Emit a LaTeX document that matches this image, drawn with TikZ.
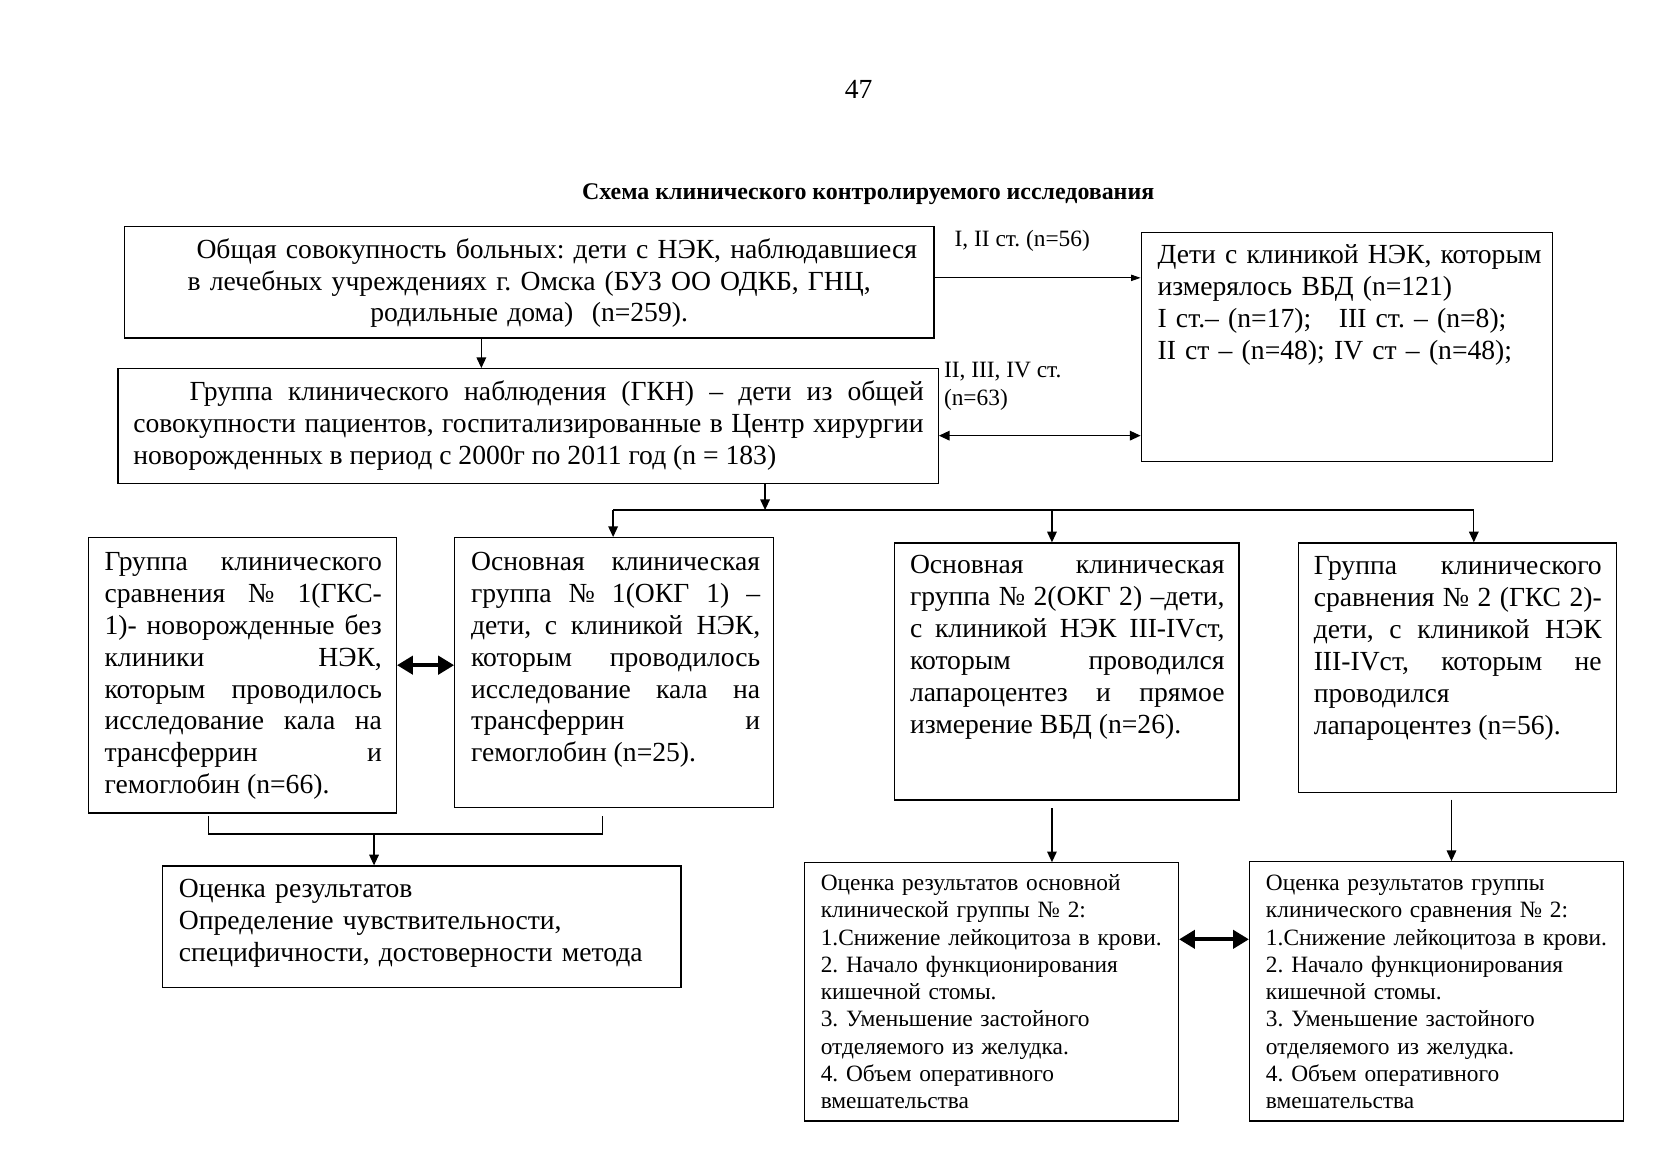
\documentclass[tikz,border=0pt]{standalone}
\usepackage{fontspec}
\setmainfont{Liberation Serif}
\usetikzlibrary{arrows.meta,positioning,calc,fit}

% one justified line of a box text
\newcommand{\jl}[1]{\makebox[\linewidth][s]{#1}\\}
\frenchspacing

\begin{document}
\begin{tikzpicture}[
    x=0.5pt, y=-0.5pt,
    box/.style={rectangle, draw=black, line width=0.6pt, inner sep=0pt},
    txt/.style={inner sep=0pt, anchor=base west, align=justify, font=\fontsize{13}{15}\selectfont},
    small/.style={inner sep=0pt, anchor=base west, align=left, font=\fontsize{11}{12.85}\selectfont},
    note/.style={inner sep=0pt, anchor=base west, align=left, font=\fontsize{11}{13.5}\selectfont},
    arrow/.style={-{Triangle[length=5pt,width=4.5pt]}, line width=0.6pt},
    darrow/.style={{Triangle[length=7.5pt,width=8.5pt]}-{Triangle[length=7.5pt,width=8.5pt]}, line width=2pt}
]
\useasboundingbox (0,0) rectangle (1566,1106);

% Page number and title
\node[txt, anchor=base] (page) at (808,93) {47};
\node[txt, anchor=base, font=\fontsize{11.25}{13}\selectfont\bfseries] (title) at (817,188) {Схема клинического контролируемого исследования};

% Boxes
\node[box, fit={(117,213) (879,318)}] (total) {};
\node[box, fit={(1074,219) (1461,434)}] (measured) {};
\node[box, fit={(111,347) (883,455)}] (gkn) {};
\node[box, fit={(83,506) (373,765)}] (gks1) {};
\node[box, fit={(428,506) (728,760)}] (okg1) {};
\node[box, fit={(842,511) (1166,753)}] (okg2) {};
\node[box, fit={(1222,511) (1521,746)}] (gks2) {};
\node[box, fit={(153,815) (641,929)}] (res1) {};
\node[box, fit={(757,812) (1109,1055)}] (res2) {};
\node[box, fit={(1176,811) (1528,1055)}] (res3) {};

% Box texts
\node[txt, anchor=base, align=center, text width=381pt] (totaltext) at (498,243) {\hspace*{26pt}Общая совокупность больных: дети с НЭК, наблюдавшиеся\\
в лечебных учреждениях г. Омска (БУЗ ОО ОДКБ, ГНЦ,\\
родильные дома)\ \ (n=259).};

\node[txt, align=left, text width=190pt] (measuredtext) at (1089,248) {Дети с клиникой НЭК, которым\\
измерялось ВБД (n=121)\\
I ст.– (n=17);\hspace{13pt}III ст. – (n=8);\\
II ст – (n=48); IV ст – (n=48);};

\node[txt, text width=372pt] (gkntext) at (125,377) {\jl{\hspace*{26.5pt}Группа клинического наблюдения (ГКН) – дети из общей}
\jl{совокупности пациентов, госпитализированные в Центр хирургии}
новорожденных в период с 2000г по 2011 год (n = 183)};

\node[txt, text width=130.5pt] (gks1text) at (98,537) {\jl{Группа клинического}
\jl{сравнения № 1(ГКС-}
\jl{1)- новорожденные без}
\jl{клиники НЭК,}
\jl{которым проводилось}
\jl{исследование кала на}
\jl{трансферрин и}
гемоглобин (n=66).};

\node[txt, text width=136pt] (okg1text) at (443,537) {\jl{Основная клиническая}
\jl{группа № 1(ОКГ 1) –}
\jl{дети, с клиникой НЭК,}
\jl{которым проводилось}
\jl{исследование кала на}
\jl{трансферрин и}
гемоглобин (n=25).};

\node[txt, text width=148pt] (okg2text) at (856,540) {\jl{Основная клиническая}
\jl{группа № 2(ОКГ 2) –дети,}
\jl{с клиникой НЭК III-IVст,}
\jl{которым проводился}
\jl{лапароцентез и прямое}
измерение ВБД (n=26).};

\node[txt, text width=135.5pt] (gks2text) at (1236,541) {\jl{Группа клинического}
\jl{сравнения № 2 (ГКС 2)-}
\jl{дети, с клиникой НЭК}
\jl{III-IVст, которым не}
проводился\\
лапароцентез (n=56).};

\node[txt, align=left, text width=235pt] (res1text) at (168,845) {Оценка результатов\\
Определение чувствительности,\\
специфичности, достоверности метода};

\node[small, text width=172pt] (res2text) at (772,838) {Оценка результатов основной\\
клинической группы № 2:\\
1.Снижение лейкоцитоза в крови.\\
2. Начало функционирования\\
кишечной стомы.\\
3. Уменьшение застойного\\
отделяемого из желудка.\\
4. Объем оперативного\\
вмешательства};

\node[small, text width=172pt] (res3text) at (1191,838) {Оценка результатов группы\\
клинического сравнения № 2:\\
1.Снижение лейкоцитоза в крови.\\
2. Начало функционирования\\
кишечной стомы.\\
3. Уменьшение застойного\\
отделяемого из желудка.\\
4. Объем оперативного\\
вмешательства};

% Arrow labels
\node[note] (lab1) at (898,232) {I, II ст. (n=56)};
\node[note] (lab2) at (888,382) {II, III, IV ст.\\(n=63)};

% Branch coordinates
\coordinate (split) at (720,480);
\coordinate (bl) at (577,480);
\coordinate (bm) at (990,480);
\coordinate (br) at (1387,480);
\coordinate (brl) at (196,785);
\coordinate (brr) at (567,785);
\coordinate (brm) at (352,785);
\coordinate (rr) at (1366,760);
\coordinate (m1) at (400,626);
\coordinate (m2) at (1140,884);

% Arrows
\draw[arrow] ([xshift=-22.5pt]total.south) -- ([xshift=-22.5pt]total.south |- gkn.north);
\draw[arrow, line width=0.4pt, -{Triangle[length=4.5pt,width=3pt]}] ([yshift=2pt]total.east) -- ([yshift=2pt]total.east -| measured.west);
\draw[arrow, {Triangle[length=5pt,width=4.5pt]}-{Triangle[length=5pt,width=4.5pt]}] ([yshift=-4.5pt]gkn.east) -- ([yshift=-4.5pt]gkn.east -| measured.west);
\draw[arrow] (gkn.south -| split) -- (split);
\draw[line width=0.6pt] (bl) -- (br);
\draw[arrow] (bl) -- (bl |- okg1.north);
\draw[arrow] (bm) -- (bm |- okg2.north);
\draw[arrow] (br) -- (br |- gks2.north);
\draw[darrow] (m1 -| gks1.east) -- (m1 -| okg1.west);
\draw[line width=0.6pt] (brl) ++(0,-17) -- (brl) -- (brr) -- ++(0,-17);
\draw[arrow] (brm) -- (brm |- res1.north);
\draw[arrow] ([yshift=-3.5pt]okg2.south -| bm) -- (bm |- res2.north);
\draw[arrow] ([yshift=-3pt]gks2.south -| rr) -- (rr |- res3.north);
\draw[darrow] (m2 -| res2.east) -- (m2 -| res3.west);

\end{tikzpicture}
\end{document}
